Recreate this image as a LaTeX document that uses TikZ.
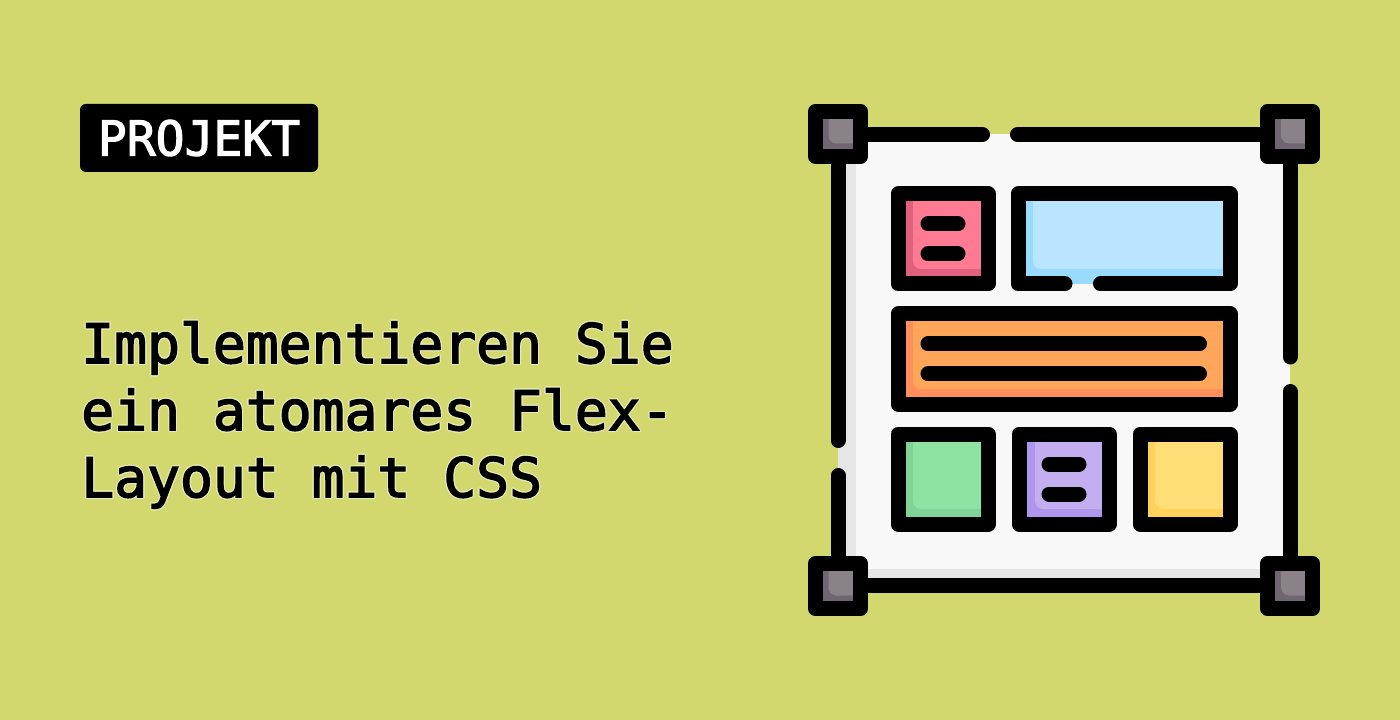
\documentclass[tikz,border=0pt]{standalone}
\usepackage{fontspec}
\usepackage{contour}
\newfontfamily\titlefont{DejaVu Sans Mono}[FakeBold=2.6]
\newfontfamily\badgefont{DejaVu Sans Mono}[FakeBold=2.4]
\definecolor{backdrop}{HTML}{D2D76E}
\definecolor{halo}{HTML}{E6E9B0}
\definecolor{sheet}{HTML}{F8F8F8}
\definecolor{sheetdark}{HTML}{E6E6E6}
\definecolor{pinkdark}{HTML}{E0607E}
\definecolor{pinklight}{HTML}{FF7A93}
\definecolor{bluedark}{HTML}{99DAFF}
\definecolor{bluelight}{HTML}{BAE5FF}
\definecolor{orangedark}{HTML}{FF9059}
\definecolor{orangelight}{HTML}{FFA65A}
\definecolor{greendark}{HTML}{80D498}
\definecolor{greenlight}{HTML}{8EE3A3}
\definecolor{purpledark}{HTML}{AE96ED}
\definecolor{purplelight}{HTML}{C3AEF0}
\definecolor{yellowdark}{HTML}{FFD15B}
\definecolor{yellowlight}{HTML}{FFDE76}
\definecolor{handledark}{HTML}{6F6671}
\definecolor{handlelight}{HTML}{8A8289}
\contourlength{0.9pt}
\begin{document}
\begin{tikzpicture}[
    x=0.75pt, y=-0.75pt,
    outline/.style={draw=black, line width=11.25pt, line join=round, line cap=round},
    bar/.style={draw=black, line width=11.25pt, line cap=round},
    soft/.style={rounded corners=6pt},
    badge/.style={rectangle, fill=black, rounded corners=4.5pt, inner sep=0pt, minimum width=178.5pt, minimum height=51pt, text=white, font=\fontsize{36}{36}\badgefont},
    heading/.style={align=left, anchor=north west, inner sep=0pt, font=\fontsize{41}{50.25}\titlefont}
]
\fill[backdrop] (0,0) rectangle (1400,720);

\node[badge] (project) at (199,138) {PROJEKT};
\node[heading] (headline) at (81,321) {\contour{halo}{Implementieren Sie}\\\contour{halo}{ein atomares Flex-}\\\contour{halo}{Layout mit CSS}};

\fill[sheet] (838,134) rectangle (1290,585);
\fill[sheetdark] (838,134) rectangle (856,585);
\fill[sheetdark] (838,569) rectangle (1290,585);

\draw[bar] (860,134.5) -- (982.5,134.5);
\draw[bar] (1017.5,134.5) -- (1268,134.5);
\draw[bar] (838,156) -- (838,440.5);
\draw[bar] (838,475.5) -- (838,564);
\draw[bar] (1290,156) -- (1290,357);
\draw[bar] (1290,391.5) -- (1290,564);
\draw[bar] (860,585.5) -- (1268,585.5);

\fill[pinkdark] (898,194) rectangle (988,284);
\fill[pinklight] (913,190) [soft] -- (913,269) [sharp corners] -- (990,269) -- (990,190) -- cycle;
\draw[outline] (898,194) rectangle (988,284);
\draw[bar] (928,224) -- (958,224);
\draw[bar] (928,254) -- (958,254);

\fill[bluedark] (1018,194) rectangle (1230,284);
\fill[bluelight] (1033,190) [soft] -- (1033,269) [sharp corners] -- (1232,269) -- (1232,190) -- cycle;
\draw[outline] (1065,284) -- (1018,284) -- (1018,194) -- (1230,194) -- (1230,284) -- (1100.5,284);

\fill[orangedark] (898,314) rectangle (1230,404);
\fill[orangelight] (913,310) [soft] -- (913,389) [sharp corners] -- (1232,389) -- (1232,310) -- cycle;
\draw[outline] (898,314) rectangle (1230,404);
\draw[bar] (928,344) -- (1199.5,344);
\draw[bar] (928,374) -- (1199.5,374);

\fill[greendark] (898,434) rectangle (988,524);
\fill[greenlight] (913,430) [soft] -- (913,509) [sharp corners] -- (990,509) -- (990,430) -- cycle;
\draw[outline] (898,434) rectangle (988,524);

\fill[purpledark] (1019,434) rectangle (1109,524);
\fill[purplelight] (1035,430) [soft] -- (1035,509) [sharp corners] -- (1111,509) -- (1111,430) -- cycle;
\draw[outline] (1019,434) rectangle (1109,524);
\draw[bar] (1049,464) -- (1079,464);
\draw[bar] (1049,494) -- (1079,494);

\fill[yellowdark] (1140,434) rectangle (1230,524);
\fill[yellowlight] (1155,430) [soft] -- (1155,509) [sharp corners] -- (1232,509) -- (1232,430) -- cycle;
\draw[outline] (1140,434) rectangle (1230,524);

\fill[handledark] (815.5,111.5) rectangle (860.5,156.5);
\fill[handlelight] (828.5,108) [soft] -- (828.5,143.5) [sharp corners] -- (862,143.5) -- (862,108) -- cycle;
\draw[outline] (815.5,111.5) rectangle (860.5,156.5);

\fill[handledark] (1267.5,111.5) rectangle (1312.5,156.5);
\fill[handlelight] (1281,108) [soft] -- (1281,143.5) [sharp corners] -- (1314,143.5) -- (1314,108) -- cycle;
\draw[outline] (1267.5,111.5) rectangle (1312.5,156.5);

\fill[handledark] (815.5,563.5) rectangle (860.5,608.5);
\fill[handlelight] (828.5,560) [soft] -- (828.5,595.5) [sharp corners] -- (862,595.5) -- (862,560) -- cycle;
\draw[outline] (815.5,563.5) rectangle (860.5,608.5);

\fill[handledark] (1267.5,563.5) rectangle (1312.5,608.5);
\fill[handlelight] (1281,560) [soft] -- (1281,595.5) [sharp corners] -- (1314,595.5) -- (1314,560) -- cycle;
\draw[outline] (1267.5,563.5) rectangle (1312.5,608.5);
\end{tikzpicture}
\end{document}
